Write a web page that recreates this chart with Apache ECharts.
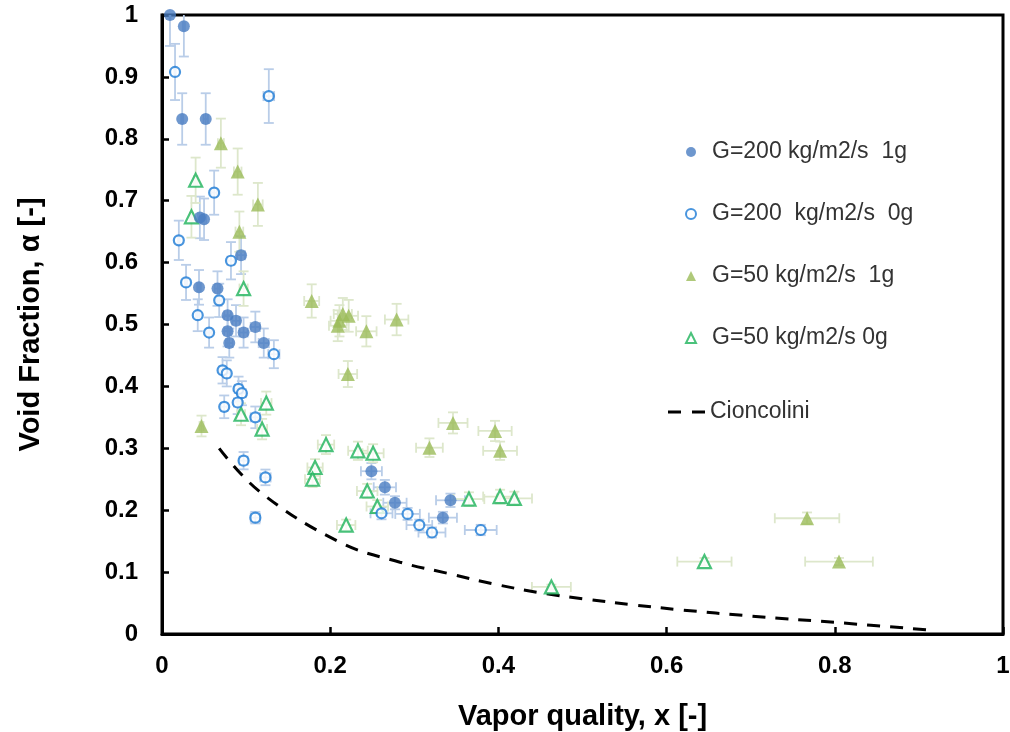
<!DOCTYPE html>
<html>
<head>
<meta charset="utf-8">
<script src="https://cdn.jsdelivr.net/npm/echarts@6/dist/echarts.min.js"></script>
<style>html,body{margin:0;padding:0;background:#fff}#c{width:1010px;height:732px}</style>
</head>
<body>
<div id="c"></div>
<script>
// ---- data ----
const g200_1g_x = [0.0095, 0.026, 0.024, 0.052, 0.045, 0.050, 0.094, 0.044, 0.066, 0.078, 0.088, 0.078, 0.097, 0.111, 0.080, 0.121, 0.249, 0.265, 0.277, 0.343, 0.334];
const g200_1g_y = [1.000, 0.982, 0.832, 0.832, 0.673, 0.670, 0.612, 0.560, 0.558, 0.515, 0.506, 0.489, 0.487, 0.496, 0.470, 0.470, 0.263, 0.237, 0.212, 0.216, 0.188];

const g200_0g_x = [0.0155, 0.127, 0.062, 0.020, 0.082, 0.0286, 0.068, 0.0425, 0.056, 0.133, 0.072, 0.077, 0.091, 0.095, 0.090, 0.074, 0.111, 0.097, 0.123, 0.111, 0.261, 0.292, 0.306, 0.321, 0.379];
const g200_0g_y = [0.908, 0.869, 0.713, 0.636, 0.603, 0.568, 0.539, 0.515, 0.487, 0.452, 0.426, 0.421, 0.396, 0.389, 0.374, 0.367, 0.350, 0.280, 0.253, 0.188, 0.195, 0.194, 0.176, 0.164, 0.168];

const g50_1g_x = [0.070, 0.090, 0.114, 0.092, 0.047, 0.178, 0.211, 0.215, 0.222, 0.209, 0.243, 0.279, 0.221, 0.346, 0.318, 0.396, 0.402, 0.767, 0.805];
const g50_1g_y = [0.793, 0.747, 0.694, 0.650, 0.336, 0.538, 0.506, 0.517, 0.514, 0.498, 0.489, 0.508, 0.420, 0.341, 0.301, 0.328, 0.296, 0.187, 0.117];

const g50_0g_x = [0.040, 0.035, 0.097, 0.124, 0.094, 0.119, 0.195, 0.182, 0.179, 0.233, 0.251, 0.244, 0.256, 0.219, 0.365, 0.402, 0.419, 0.645, 0.463];
const g50_0g_y = [0.733, 0.674, 0.558, 0.373, 0.355, 0.331, 0.306, 0.269, 0.250, 0.296, 0.292, 0.231, 0.206, 0.176, 0.218, 0.222, 0.219, 0.117, 0.076];

const cionc_x = [0.068, 0.117, 0.212, 0.283, 0.343, 0.394, 0.448, 0.506, 0.561, 0.617, 0.700, 0.807, 0.917];
const cionc_y = [0.300, 0.229, 0.148, 0.116, 0.097, 0.081, 0.067, 0.056, 0.047, 0.039, 0.029, 0.018, 0.006];

const relErr = 0.05; // relative measurement uncertainty shown by error bars

const seriesNames = ['G=200 kg/m2/s  1g', 'G=200  kg/m2/s  0g', 'G=50 kg/m2/s  1g', 'G=50 kg/m2/s 0g', 'Cioncolini'];
const xTicks = [0, 0.2, 0.4, 0.6, 0.8, 1];

// ---- build ----
function pts(xs, ys) { return xs.map((x, i) => [x, ys[i]]); }
function errPts(xs, ys) { return xs.map((x, i) => [x, ys[i], x * relErr, ys[i] * relErr]); }

function errSeries(xs, ys, color) {
  return {
    type: 'custom',
    silent: true,
    clip: true,
    z: 1,
    data: errPts(xs, ys),
    renderItem: function (params, api) {
      const x = api.value(0), y = api.value(1), ex = api.value(2), ey = api.value(3);
      const c = api.coord([x, y]);
      const top = api.coord([x, y + ey]), bot = api.coord([x, y - ey]);
      const lef = api.coord([x - ex, y]), rig = api.coord([x + ex, y]);
      const cap = 5;
      const st = { stroke: color, lineWidth: 1.8 };
      const ch = [
        { type: 'line', shape: { x1: c[0], y1: top[1], x2: c[0], y2: bot[1] }, style: st },
        { type: 'line', shape: { x1: c[0] - cap, y1: top[1], x2: c[0] + cap, y2: top[1] }, style: st },
        { type: 'line', shape: { x1: c[0] - cap, y1: bot[1], x2: c[0] + cap, y2: bot[1] }, style: st },
        { type: 'line', shape: { x1: lef[0], y1: c[1], x2: rig[0], y2: c[1] }, style: st },
        { type: 'line', shape: { x1: lef[0], y1: c[1] - cap, x2: lef[0], y2: c[1] + cap }, style: st },
        { type: 'line', shape: { x1: rig[0], y1: c[1] - cap, x2: rig[0], y2: c[1] + cap }, style: st }
      ];
      return { type: 'group', children: ch };
    }
  };
}

const blueErr = '#b9cde8';
const greenErr = '#dde7cb';
const cFilledBlue = '#4a7dc2';
const cOpenBlue = '#1b7bd6';
const cFilledGreen = '#9bbb59';
const cOpenGreen = '#1db35a';

const font = '"Liberation Sans", Arial, sans-serif';
const legendText = { fontFamily: font, fontSize: 23, color: '#333', lineHeight: 24, padding: [0, 0, 0, 11] };

const chart = echarts.init(document.getElementById('c'), null, { renderer: 'canvas' });
chart.setOption({
  animation: false,
  backgroundColor: '#fff',
  grid: { left: 162, right: 7, top: 15, bottom: 98, containLabel: false, outerBoundsMode: 'none',
    show: true, borderColor: '#000', borderWidth: 3, backgroundColor: 'transparent' },
  legend: [{
    data: [
      { name: seriesNames[0], icon: 'circle', itemStyle: { color: cFilledBlue, borderWidth: 0 } },
      { name: seriesNames[1], icon: 'circle', itemStyle: { color: '#fff', borderColor: cOpenBlue, borderWidth: 2 } },
      { name: seriesNames[2], icon: 'triangle', itemStyle: { color: cFilledGreen, borderWidth: 0 } },
      { name: seriesNames[3], icon: 'triangle', itemStyle: { color: '#fff', borderColor: cOpenGreen, borderWidth: 2 } }
    ],
    orient: 'vertical',
    left: 680, top: 135,
    itemWidth: 10, itemHeight: 10, itemGap: 38,
    textStyle: legendText
  }, {
    data: [{ name: seriesNames[4], icon: 'path://M0,0 h13 v3 h-13z M24,0 h13 v3 h-13z' }],
    orient: 'vertical',
    left: 663, top: 395,
    itemWidth: 37, itemHeight: 3,
    textStyle: { fontFamily: font, fontSize: 23, color: '#333', lineHeight: 24 }
  }],
  xAxis: {
    type: 'value', min: 0, max: 1, interval: 0.2,
    name: 'Vapor quality, x [-]', nameLocation: 'middle', nameGap: 68,
    nameTextStyle: { fontFamily: font, fontSize: 29, fontWeight: 'bold', color: '#000' },
    axisLine: { onZero: false, lineStyle: { color: '#000', width: 3 } },
    axisTick: { inside: true, length: 7, lineStyle: { color: '#000', width: 2.5 } },
    axisLabel: { fontFamily: font, fontSize: 24, fontWeight: 'bold', color: '#000', margin: 20,
      formatter: v => String(xTicks.find(t => Math.abs(t - v) < 1e-9) ?? v) },
    splitLine: { show: false }
  },
  yAxis: {
    type: 'value', min: 0, max: 1, interval: 0.1,
    name: 'Void Fraction, α [-]', nameLocation: 'middle', nameGap: 117,
    nameTextStyle: { fontFamily: font, fontSize: 29, fontWeight: 'bold', color: '#000' },
    axisLine: { onZero: false, lineStyle: { color: '#000', width: 3 } },
    axisTick: { inside: true, length: 7, lineStyle: { color: '#000', width: 2.5 } },
    axisLabel: { fontFamily: font, fontSize: 24, fontWeight: 'bold', color: '#000', margin: 24 },
    splitLine: { show: false }
  },
  series: [
    errSeries(g200_1g_x, g200_1g_y, blueErr),
    errSeries(g200_0g_x, g200_0g_y, blueErr),
    errSeries(g50_1g_x, g50_1g_y, greenErr),
    errSeries(g50_0g_x, g50_0g_y, greenErr),
    {
      name: seriesNames[4], type: 'line', data: pts(cionc_x, cionc_y), smooth: 0.4,
      symbol: 'none', z: 2,
      lineStyle: { color: '#000', width: 3, type: [13, 10] },
      itemStyle: { color: '#000' }
    },
    {
      name: seriesNames[3], type: 'scatter', data: pts(g50_0g_x, g50_0g_y), symbol: 'triangle', symbolSize: 13, z: 3,
      itemStyle: { color: '#fff', borderColor: cOpenGreen, borderWidth: 2.2 }
    },
    {
      name: seriesNames[2], type: 'scatter', data: pts(g50_1g_x, g50_1g_y), symbol: 'triangle', symbolSize: 14, z: 3,
      itemStyle: { color: cFilledGreen }
    },
    {
      name: seriesNames[1], type: 'scatter', data: pts(g200_0g_x, g200_0g_y), symbol: 'circle', symbolSize: 10, z: 4,
      itemStyle: { color: '#fff', borderColor: cOpenBlue, borderWidth: 2.2 }
    },
    {
      name: seriesNames[0], type: 'scatter', data: pts(g200_1g_x, g200_1g_y), symbol: 'circle', symbolSize: 12, z: 4,
      itemStyle: { color: cFilledBlue }
    }
  ]
});
</script>
</body>
</html>
